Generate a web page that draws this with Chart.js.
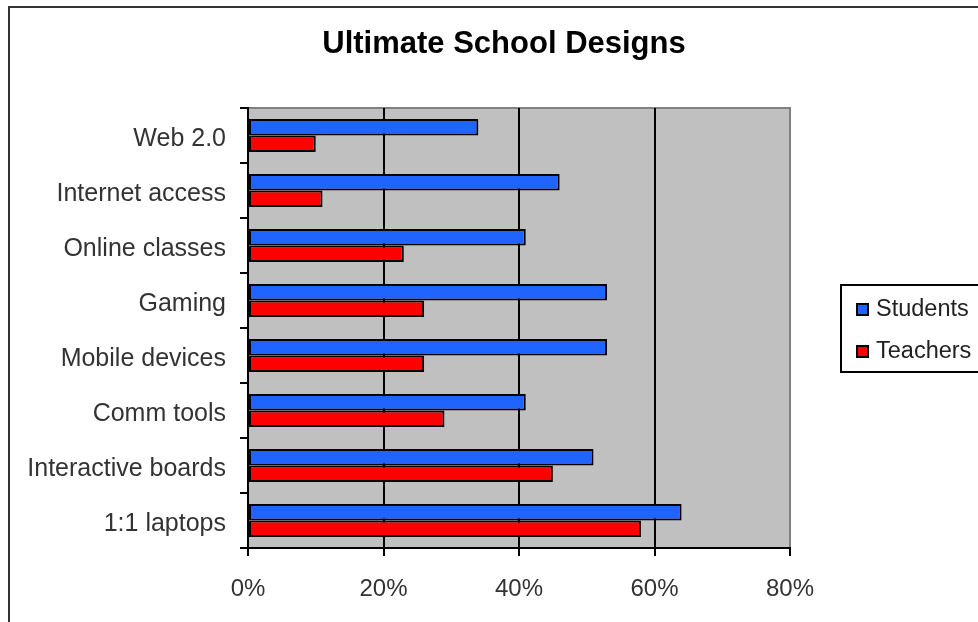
<!DOCTYPE html>
<html>
<head>
<meta charset="utf-8">
<script src="https://cdn.jsdelivr.net/npm/chart.js@4.4.0/dist/chart.umd.min.js"></script>
<style>
  html, body { margin: 0; padding: 0; background: #fff; }
  #wrap { width: 978px; height: 622px; }
</style>
</head>
<body>
<div id="wrap"><canvas id="myChart"></canvas></div>
<script>
// data
const categories = ["Web 2.0", "Internet access", "Online classes", "Gaming", "Mobile devices", "Comm tools", "Interactive boards", "1:1 laptops"];
const students = [34, 46, 41, 53, 53, 41, 51, 64];
const teachers = [10, 11, 23, 26, 26, 29, 45, 58];
const seriesNames = ["Students", "Teachers"];
const xTicks = [0, 20, 40, 60, 80];

const FONT = "'Liberation Sans', Arial, sans-serif";

// frame, plot background, title and legend
const decor = {
  id: "decor",
  beforeDraw(chart) {
    const c = chart.ctx, a = chart.chartArea;
    c.save();
    c.fillStyle = "#fff";
    c.fillRect(0, 0, chart.width, chart.height);
    // outer frame
    c.strokeStyle = "#333";
    c.lineWidth = 2;
    c.strokeRect(9, 7, chart.width + 20, chart.height + 20);
    // plot area
    c.fillStyle = "#c0c0c0";
    c.fillRect(a.left, a.top, a.right - a.left, a.bottom - a.top);
    c.strokeStyle = "#808080";
    c.lineWidth = 2;
    c.strokeRect(a.left, a.top, a.right - a.left, a.bottom - a.top);
    c.restore();
  },
  afterDraw(chart) {
    const c = chart.ctx;
    c.save();
    c.fillStyle = "#000";
    c.font = "bold 31px " + FONT;
    c.textAlign = "center";
    c.textBaseline = "middle";
    c.fillText("Ultimate School Designs", 504, 44);

    // legend
    c.fillStyle = "#fff";
    c.fillRect(841, 285, 150, 87);
    c.strokeStyle = "#000";
    c.lineWidth = 2;
    c.strokeRect(841, 285, 150, 87);
    c.font = "23.5px " + FONT;
    c.textAlign = "left";
    chart.data.datasets.forEach((ds, i) => {
      const y = 309 + i * 42;
      c.fillStyle = ds.backgroundColor;
      c.fillRect(857, y - 5, 11, 11);
      c.strokeStyle = "#000";
      c.lineWidth = 2;
      c.strokeRect(857, y - 5, 11, 11);
      c.fillStyle = "#222";
      c.fillText(ds.label, 876, y + 1);
    });
    c.restore();
  }
};

const ctx = document.getElementById("myChart").getContext("2d");
const myChart = new Chart(ctx, {
  type: "bar",
  data: {
    labels: categories,
    datasets: [
      {
        label: seriesNames[0],
        data: students,
        backgroundColor: "#1f64ff",
        borderColor: "#000",
        borderWidth: 2,
        borderSkipped: false,
      },
      {
        label: seriesNames[1],
        data: teachers,
        backgroundColor: "#ff0000",
        borderColor: "#000",
        borderWidth: 2,
        borderSkipped: false,
      },
    ],
  },
  options: {
    indexAxis: "y",
    responsive: true,
    maintainAspectRatio: false,
    animation: false,
    devicePixelRatio: 1,
    categoryPercentage: 0.6,
    barPercentage: 1.0,
    layout: { padding: { left: 0, top: 108, right: 188, bottom: 0 } },
    plugins: {
      legend: { display: false },
      title: { display: false },
      tooltip: { enabled: false },
    },
    scales: {
      x: {
        min: 0,
        max: 80,
        afterFit(scale) { scale.height = 74; },
        afterBuildTicks(scale) { scale.ticks = xTicks.map(v => ({ value: v })); },
        ticks: {
          callback: v => v + "%",
          color: "#333",
          font: { family: FONT, size: 24 },
          padding: 19,
          maxRotation: 0,
        },
        grid: {
          color: c => (c.tick && c.tick.value === 80 ? "#808080" : "#000"),
          tickColor: "#000",
          lineWidth: 2,
          tickLength: 8,
        },
        border: { color: "#000", width: 2 },
      },
      y: {
        afterFit(scale) { scale.width = 248; },
        ticks: {
          color: "#333",
          font: { family: FONT, size: 25 },
          padding: 14,
          labelOffset: 4,
        },
        grid: {
          drawOnChartArea: false,
          tickColor: "#000",
          lineWidth: 2,
          tickLength: 8,
          offset: true,
        },
        border: { color: "#000", width: 2 },
      },
    },
  },
  plugins: [decor],
});
</script>
</body>
</html>
